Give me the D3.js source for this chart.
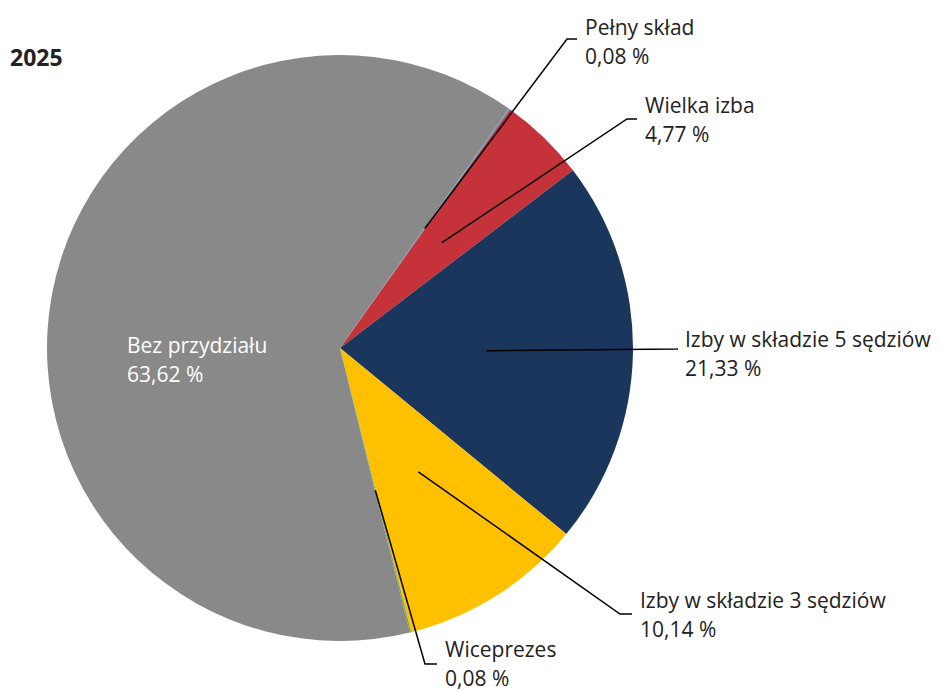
<!DOCTYPE html>
<html lang="pl">
<head>
<meta charset="UTF-8">
<title>2025</title>
<script src="https://d3js.org/d3.v7.min.js"></script>
<style>
  body { margin: 0; background: #fff; font-family: "Open Sans", "Noto Sans", sans-serif; }
</style>
</head>
<body>
<div id="wykres"></div>
<script>
  // dane
  var kategorie = ["Pełny skład", "Wielka izba", "Izby w składzie 5 sędziów", "Izby w składzie 3 sędziów", "Wiceprezes", "Bez przydziału"];
  var wartosci = [0.08, 4.77, 21.33, 10.14, 0.08, 63.62];
  var etykiety = ["0,08 %", "4,77 %", "21,33 %", "10,14 %", "0,08 %", "63,62 %"];
  var kolory = ["#4aa3d6", "#c5323a", "#1a365d", "#ffc000", "#70ad47", "#898989"];

  // polozenie etykiet: x tekstu, y pierwszej linii bazowej, poczatek poziomego odcinka linii (hx, hy)
  var pozycje = [
    {x: 585, y: 35, hx: 567, hy: 39},
    {x: 645, y: 113, hx: 627, hy: 119},
    {x: 685, y: 347, hx: 678, hy: 349},
    {x: 640, y: 608, hx: 620, hy: 614},
    {x: 445, y: 657, hx: 425, hy: 664},
    {x: 127, y: 353, hx: null, hy: null}
  ];

  var width = 939, height = 691;
  var cx = 340, cy = 348, r = 293;
  var start = 35.2 * Math.PI / 180;

  var svg = d3.select("#wykres").append("svg")
      .attr("width", width)
      .attr("height", height);

  svg.append("text")
      .attr("x", 10)
      .attr("y", 66)
      .attr("font-size", 23)
      .attr("font-weight", "bold")
      .attr("fill", "#222")
      .text("2025");

  var pie = d3.pie().sort(null).value(d => d.v)
      .startAngle(start).endAngle(start + 2 * Math.PI);
  var arc = d3.arc().innerRadius(0).outerRadius(r);

  var dane = kategorie.map((k, i) => ({k: k, v: wartosci[i], lab: etykiety[i], kolor: kolory[i], poz: pozycje[i]}));
  var luki = pie(dane);

  var g = svg.append("g").attr("transform", `translate(${cx},${cy})`);

  g.selectAll("path")
    .data(luki)
    .join("path")
      .attr("d", arc)
      .attr("fill", d => d.data.kolor);

  // linie odniesienia
  luki.forEach(function(d) {
    var p = d.data.poz;
    if (p.hx === null) return;
    var c = arc.centroid(d);
    var pts = [[c[0] + cx, c[1] + cy], [p.hx, p.hy], [p.x - 8, p.hy]];
    svg.append("path")
        .attr("d", d3.line()(pts))
        .attr("fill", "none")
        .attr("stroke", "#000")
        .attr("stroke-width", 1.5);
  });

  // etykiety
  luki.forEach(function(d) {
    var p = d.data.poz;
    var t = svg.append("text")
        .attr("x", p.x)
        .attr("y", p.y)
        .attr("font-size", 21)
        .attr("fill", p.hx === null ? "#fff" : "#222");
    t.append("tspan").attr("x", p.x).attr("y", p.y).text(d.data.k);
    t.append("tspan").attr("x", p.x).attr("y", p.y + 28.5).text(d.data.lab);
  });
</script>
</body>
</html>
